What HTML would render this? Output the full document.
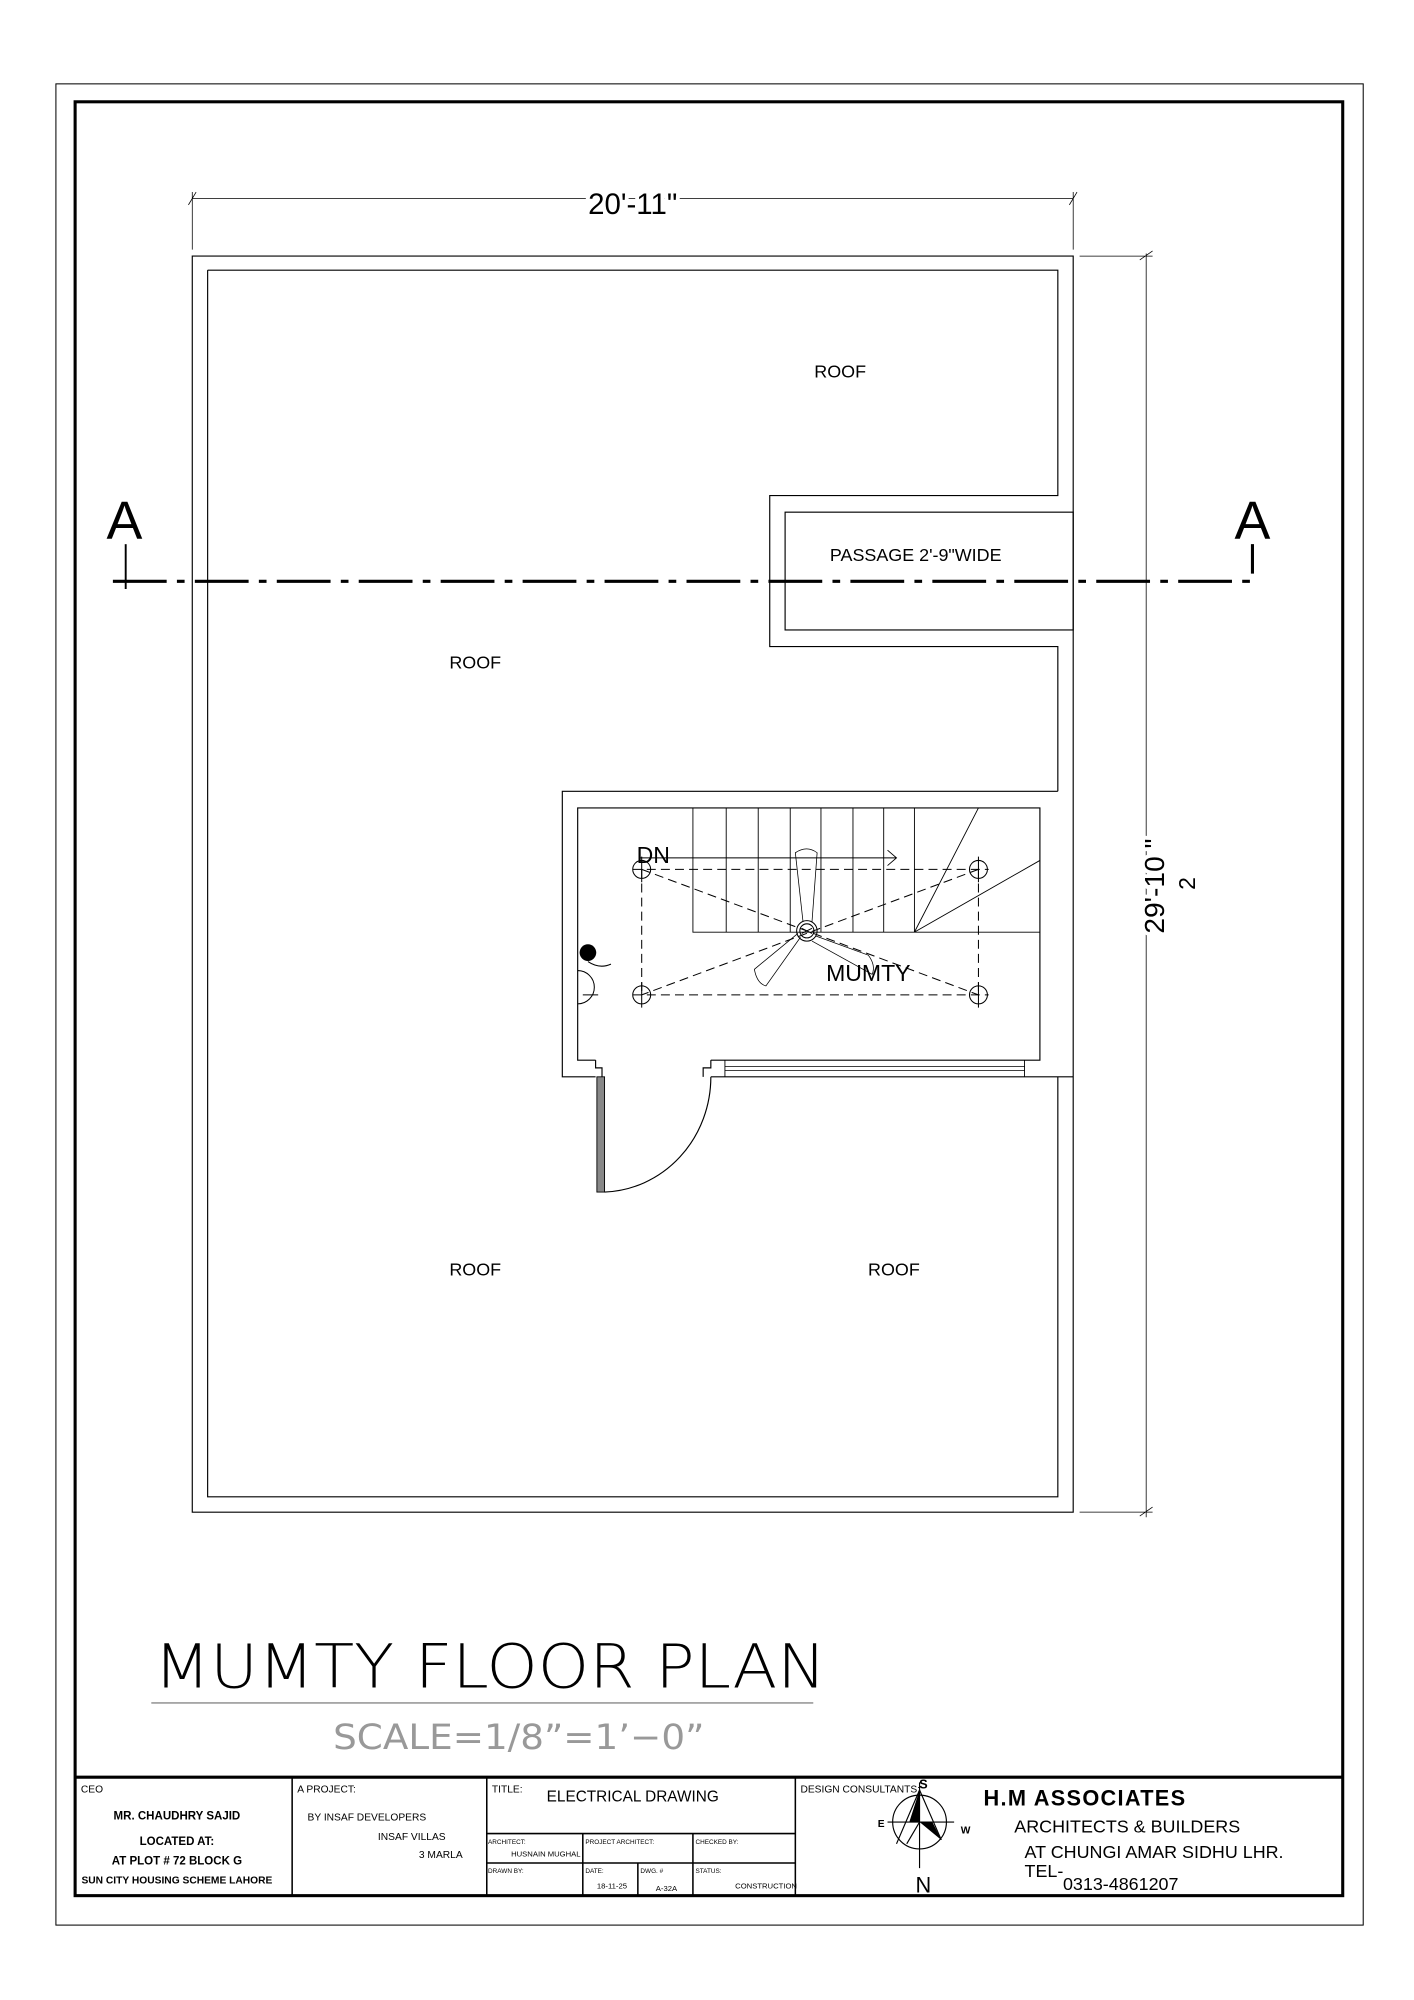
<!DOCTYPE html>
<html><head><meta charset="utf-8"><style>
html,body{margin:0;padding:0;background:#fff}
svg{display:block}
text{font-family:"Liberation Sans",sans-serif;fill:#000}
.n{font-family:"Liberation Sans Narrow","Liberation Sans",sans-serif}
</style></head><body>
<svg width="1414" height="2000" viewBox="0 0 1104 1562" xmlns="http://www.w3.org/2000/svg">
<g fill="none" stroke="#000">
<rect x="43.5" y="65.5" width="1021" height="1438" stroke-width="0.8"/>
<rect x="58.5" y="79.5" width="990" height="1401" stroke-width="2.4"/>
<g stroke-width="0.9">
<path d="M150 200 H838 V1181 H150 Z"/>
<path d="M162 211 H826 V387 H601 V505 H826 V618"/>
<path d="M826 841 V1169 H162 V211"/>
<rect x="613" y="400" width="225" height="92"/>
<path d="M826 618 H439 V841 H465"/>
<path d="M555 841 H838"/>
<path d="M465 828 H451 V631 H812 V828 H555"/>
<path d="M465 828 V834 H470 V841"/>
<path d="M555 828 V834 H549 V841"/>
<path d="M566 828 V841 M800 828 V841" stroke-width="0.7"/>
<path d="M566 833 H800 M566 836 H800" stroke-width="0.6"/>
<path d="M541 631 V728 H812 M567 631 V728 M592 631 V728 M617 631 V728 M641 631 V728 M666 631 V728 M690 631 V728 M714 631 V728" stroke-width="0.7"/>
<path d="M714 728 L764 631 M714 728 L812 672" stroke-width="0.7"/>
<path d="M500 670 H700 M693 664 L700 670 L693 676" stroke-width="0.7"/>
<rect x="466" y="841" width="6" height="90" fill="#888" stroke-width="0.7"/>
<path d="M472 931 A86 90 0 0 0 555 841"/>
</g>
<g stroke-width="0.8" stroke-dasharray="7 4">
<path d="M494 679 H772 M494 777 H772 M501 679 V777 M764 679 V777"/>
<path d="M501 679 L764 777 M764 679 L501 777"/>
</g>
<g stroke-width="0.8">
<circle cx="501" cy="679" r="7"/><circle cx="764" cy="679" r="7"/>
<circle cx="501" cy="777" r="7"/><circle cx="764" cy="777" r="7"/>
<path d="M501 669 V689 M764 669 V689 M501 767 V787 M764 767 V787"/>
<circle cx="630" cy="727" r="8"/><circle cx="630" cy="727" r="5.5"/>
<path d="M626 725 L634 729 M626 729 L634 725"/>
<path d="M627 720 L621 666 Q630 660 638 666 L634 720" stroke-width="0.6"/>
<path d="M637 731 L678 746 Q684 754 681 761 L634 735" stroke-width="0.6"/>
<path d="M625 732 L598 770 Q591 768 589 757 L623 729" stroke-width="0.6"/>
<path d="M451 758 A11 11 0 0 1 451 784 M455 777 H467"/>
<path d="M459 751 Q468 757 477 753"/>
</g>
<circle cx="459" cy="744" r="6.5" fill="#000" stroke="none"/>
<g stroke-width="0.6">
<path d="M150 155 H838 M150 150 V195 M838 150 V195 M147 160 L153 150 M835 160 L841 150"/>
<path d="M843 200 H900 M843 1181 H900 M895 198 V1185 M890 203 L900 196 M890 1184 L900 1177"/>
</g>
<path d="M88 454 H978 V425" stroke-width="2.4" stroke-dasharray="42 8 6 8"/>
<path d="M98 425 V460" stroke-width="1.5"/>
<path d="M118 1330 H635" stroke="#888" stroke-width="1"/>
<path d="M58 1388 H1049" stroke-width="2.4"/>
<path d="M228 1388 V1480 M380 1388 V1480 M621 1388 V1480" stroke-width="1.2"/>
<path d="M380 1432 H621 M380 1455 H621 M455 1432 V1480 M541 1432 V1480 M498 1455 V1480" stroke-width="1.2"/>
<circle cx="718" cy="1423" r="21" stroke-width="0.9"/>
<path d="M718 1392 V1459 M693 1423 H745" stroke-width="0.9"/>
<path d="M700 1440 L718 1398 L735 1437 M718 1423 L708 1440" stroke-width="0.9"/>
</g>
<path d="M718 1398 L710 1423 L718 1423 Z" fill="#000"/>
<path d="M718 1423 L728 1423 L735 1437 Z" fill="#000"/>

<text x="494" y="167" font-size="23" text-anchor="middle" style="paint-order:stroke;stroke:#fff;stroke-width:6px">20'-11"</text>
<text transform="translate(909 692) rotate(-90)" font-size="22" text-anchor="middle" style="paint-order:stroke;stroke:#fff;stroke-width:6px">29'-10 "</text>
<text transform="translate(933 690) rotate(-90)" font-size="18" text-anchor="middle">2</text>
<text x="97" y="421" font-size="42" text-anchor="middle">A</text>
<text x="978" y="421" font-size="42" text-anchor="middle">A</text>
<g font-size="14">
<text x="656" y="295" text-anchor="middle">ROOF</text>
<text x="371" y="522" text-anchor="middle">ROOF</text>
<text x="371" y="996" text-anchor="middle">ROOF</text>
<text x="698" y="996" text-anchor="middle">ROOF</text>
<text x="715" y="438" text-anchor="middle">PASSAGE 2'-9"WIDE</text>
</g>
<text x="510" y="674" font-size="18" text-anchor="middle">DN</text>
<text x="678" y="766" font-size="18" text-anchor="middle">MUMTY</text>
<text x="120" y="1318" font-size="47" textLength="525" lengthAdjust="spacingAndGlyphs" style="font-family:'DejaVu Sans',sans-serif;font-weight:200">MUMTY FLOOR PLAN</text>
<text x="405" y="1366" font-size="27" text-anchor="middle" style="fill:#999;font-family:'DejaVu Sans',sans-serif" textLength="290" lengthAdjust="spacingAndGlyphs">SCALE=1/8”=1’−0”</text>

<g class="n" font-size="8">
<text x="63" y="1400">CEO</text>
<text x="138" y="1421" text-anchor="middle" font-weight="bold" font-size="9">MR. CHAUDHRY SAJID</text>
<text x="138" y="1441" text-anchor="middle" font-weight="bold" font-size="9">LOCATED AT:</text>
<text x="138" y="1456" text-anchor="middle" font-weight="bold" font-size="9">AT PLOT # 72 BLOCK G</text>
<text x="138" y="1471" text-anchor="middle" font-weight="bold" font-size="8">SUN CITY HOUSING SCHEME LAHORE</text>
<text x="232" y="1400">A PROJECT:</text>
<text x="240" y="1422">BY INSAF DEVELOPERS</text>
<text x="295" y="1437">INSAF VILLAS</text>
<text x="327" y="1451">3 MARLA</text>
<text x="384" y="1400">TITLE:</text>
<text x="494" y="1407" text-anchor="middle" font-size="12">ELECTRICAL DRAWING</text>
<text x="381" y="1440" font-size="5">ARCHITECT:</text>
<text x="457" y="1440" font-size="5">PROJECT ARCHITECT:</text>
<text x="543" y="1440" font-size="5">CHECKED BY:</text>
<text x="399" y="1450" font-size="6">HUSNAIN MUGHAL</text>
<text x="381" y="1463" font-size="5">DRAWN BY:</text>
<text x="457" y="1463" font-size="5">DATE:</text>
<text x="500" y="1463" font-size="5">DWG. #</text>
<text x="543" y="1463" font-size="5">STATUS:</text>
<text x="466" y="1475" font-size="6">18-11-25</text>
<text x="512" y="1477" font-size="6">A-32A</text>
<text x="574" y="1475" font-size="6">CONSTRUCTION</text>
<text x="625" y="1400">DESIGN CONSULTANTS:</text>
</g>
<g style="font-family:'Liberation Serif',serif" font-weight="bold">
<text x="721" y="1397" font-size="10" text-anchor="middle">S</text>
<text x="688" y="1427" font-size="8" text-anchor="middle">E</text>
<text x="754" y="1432" font-size="8" text-anchor="middle">W</text>
<text x="768" y="1410" font-size="17" letter-spacing="1">H.M  ASSOCIATES</text>
</g>
<text x="721" y="1478" font-size="17" text-anchor="middle">N</text>
<g font-size="14">
<text x="792" y="1431">ARCHITECTS &amp; BUILDERS</text>
<text x="800" y="1451">AT CHUNGI AMAR SIDHU LHR.</text>
<text x="800" y="1466">TEL-</text>
<text x="830" y="1476">0313-4861207</text>
</g>
</svg>
</body></html>
